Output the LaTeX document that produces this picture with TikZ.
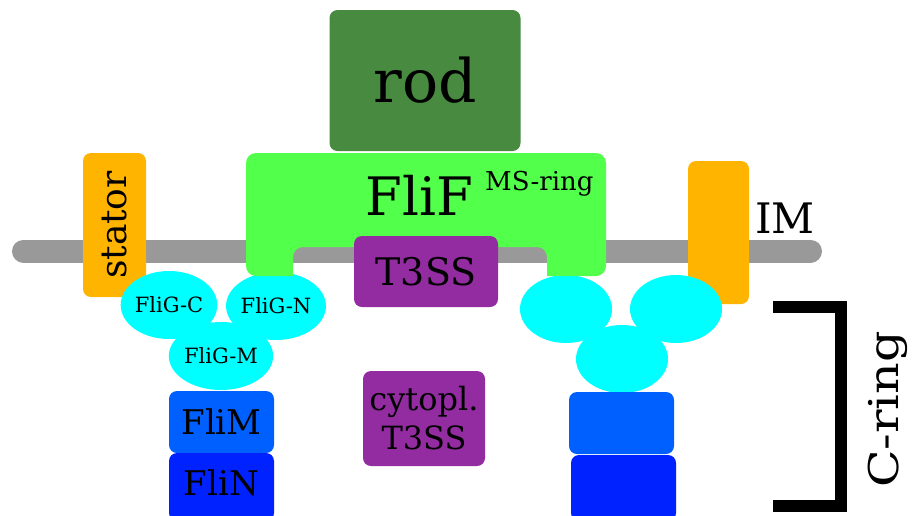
\documentclass[tikz,border=0pt]{standalone}
\usepackage{fontspec}
\setmainfont{DejaVu Serif}
\usetikzlibrary{shapes.geometric}

\definecolor{rodgreen}{RGB}{71,138,64}
\definecolor{ringgreen}{RGB}{82,255,74}
\definecolor{membranegray}{RGB}{153,153,153}
\definecolor{statorgold}{RGB}{255,180,0}
\definecolor{exportpurple}{RGB}{146,44,160}
\definecolor{fligcyan}{RGB}{0,255,255}
\definecolor{flimblue}{RGB}{0,96,255}
\definecolor{flinblue}{RGB}{0,34,255}

\newcommand{\fsz}[1]{\fontsize{#1}{1.2\dimexpr #1pt\relax}\selectfont}

\tikzset{
  box/.style={rounded corners=8pt, inner sep=0pt, align=center},
  fligball/.style={ellipse, fill=fligcyan, inner sep=0pt,
    minimum width=92pt, minimum height=68pt, font=\fsz{21}},
}

\begin{document}
\begin{tikzpicture}[x=1pt,y=-1pt]
\useasboundingbox (0,0) rectangle (915,515);
\clip (0,0) rectangle (915,515);

% inner membrane
\draw[line width=23pt, line cap=round, membranegray] (23.5,251) -- (810.5,251);

% stators
\node (stator) [box, fill=statorgold, rotate=90, minimum width=144pt,
  minimum height=63pt, font=\fsz{36}] at (114.5,225) {stator};
\node (imstator) [box, fill=statorgold, minimum width=61pt,
  minimum height=143pt] at (718.5,232.5) {};

% C-ring, left side labelled
\node (flig-c) [fligball] at (169,305) {FliG-C};
\node (flig-n) [fligball] at (276,306) {FliG-N};
\node (flig-m) [fligball] at (221,356) {FliG-M};
\node (flim) [box, fill=flimblue, minimum width=105pt, minimum height=62pt,
  font=\fsz{34}] at (221.5,422) {FliM};
\node (flin) [box, fill=flinblue, minimum width=105pt, minimum height=68pt,
  font=\fsz{34}] at (221.5,487) {};
\node [anchor=base, font=\fsz{34}] at (flin.center |- 0,495) {FliN};

% C-ring, right side
\node (flig-c2) [fligball] at (566,309) {};
\node (flig-n2) [fligball] at (676,309) {};
\node (flig-m2) [fligball] at (622,359) {};
\node (flim2) [box, fill=flimblue, minimum width=105pt,
  minimum height=62pt] at (621.5,423) {};
\node (flin2) [box, fill=flinblue, minimum width=105pt,
  minimum height=66pt] at (623.5,488) {};

% MS-ring
\fill[ringgreen, rounded corners=10pt] (246,153) -- (606,153) -- (606,276)
  [sharp corners] -- (547,276) [rounded corners=10pt] -- (547,247) -- (293,247)
  [sharp corners] -- (293,276) [rounded corners=10pt] -- (246,276) -- cycle;
\node (flif) [anchor=base, font=\fsz{53}] at (419.5,215) {FliF};
\node (msring) [anchor=base west, inner sep=0pt, font=\fsz{26}] at (485,190) {MS-ring};

\node (rod) [box, fill=rodgreen, minimum width=191pt, minimum height=141pt,
  font=\fsz{60}] at (425,80.5) {rod};

% export apparatus
\node (t3ss) [box, fill=exportpurple, minimum width=144pt, minimum height=71pt,
  font=\fsz{38}] at (426,271.5) {T3SS};
\node (cyto) [box, fill=exportpurple, minimum width=122pt, minimum height=95pt,
  font=\fontsize{32}{39}\selectfont] at (424,418.5) {cytopl.\\T3SS};

\node (im) [anchor=base west, inner sep=0pt, font=\fsz{42}] at (755,233) {IM};

% bracket
\coordinate (ctop) at (773,306.5);
\coordinate (cbot) at (773,506);
\draw[line width=12pt] (ctop) -- (840.5,306.5) -- (840.5,506) -- (cbot);
\node (cring) [rotate=90, anchor=base, inner sep=0pt, font=\fsz{41}] at (898,409.5)
  {\scalebox{1.2}[1]{C-ring}};
\end{tikzpicture}
\end{document}
